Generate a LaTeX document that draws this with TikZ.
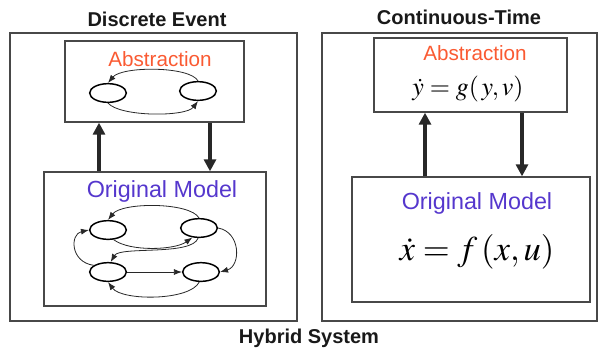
\documentclass[tikz,border=0pt]{standalone}
\usepackage{mathptmx}
\usepackage{fontspec}
\setmainfont{Liberation Sans}
\usetikzlibrary{shapes.geometric,arrows.meta}
\definecolor{abscol}{RGB}{250,90,50}
\definecolor{origcol}{RGB}{85,55,205}
\definecolor{linecol}{RGB}{40,40,40}
\tikzset{
  boxframe/.style={draw=linecol!85,line width=1pt,inner sep=0pt},
  oval/.style={ellipse,draw=black,line width=1.1pt,minimum width=27.5pt,minimum height=14pt,inner sep=0pt},
  smallarrow/.style={draw=linecol,line width=0.6pt,-{Latex[length=6pt,width=4.5pt]}},
  bigarrow/.style={draw=linecol,line width=3.2pt,-{Triangle[length=9pt,width=9pt]}},
  titletext/.style={font=\fontsize{15}{18}\selectfont\bfseries,text=black!90,inner sep=0pt},
  abstext/.style={font=\fontsize{15.5}{18}\selectfont,text=abscol,inner sep=0pt},
  origtext/.style={font=\fontsize{17.5}{20}\selectfont,text=origcol,inner sep=0pt},
}
\begin{document}
\begin{tikzpicture}[x=0.75pt,y=-0.75pt]
\useasboundingbox (0,0) rectangle (598,351);
% outer boxes
\node[boxframe,minimum width=287*0.75pt,minimum height=288*0.75pt] (lout) at (153.5,177) {};
\node[boxframe,minimum width=275*0.75pt,minimum height=288*0.75pt] (rout) at (459.5,177) {};
% titles
\node[titletext] (t1) at (157,19) {Discrete Event};
\node[titletext] (t2) at (459,17) {Continuous-Time};
\node[titletext] (t3) at (309,338) {Hybrid System};
% left abstraction box
\node[boxframe,minimum width=179*0.75pt,minimum height=81*0.75pt] (la) at (154.5,81.5) {};
\node[abstext] (lat) at (160,59) {Abstraction};
\node[oval] (a1) at (108,93) {};
\node[oval] (a2) at (198,91) {};
\draw[smallarrow] (a2.north) .. controls (190,66) and (122,66) .. (a1.north);
\draw[smallarrow] (a1.south) .. controls (120,117) and (186,117) .. (a2.south);
% left original box
\node[boxframe,minimum width=222*0.75pt,minimum height=134*0.75pt] (lo) at (155,239) {};
\node[origtext] (lot) at (162,191) {Original Model};
\node[oval] (o1) at (108,230) {};
\node[oval] (o2) at (199,228) {};
\node[oval] (o3) at (108,272) {};
\node[oval] (o4) at (201,272) {};
\draw[smallarrow] (o2.north) .. controls (190,202) and (122,202) .. (o1.north);
\draw[smallarrow] (o1.-60) .. controls (130,252) and (175,250) .. (o2.-125);
\draw[smallarrow] (o2.-95) .. controls (192,256) and (120,246) .. (o3.75);
\draw[smallarrow] (o3.155) .. controls (70,262) and (70,234) .. (o1.west);
\draw[smallarrow] (o2.east) .. controls (241,232) and (241,266) .. (o4.east);
\draw[smallarrow] (o3.east) -- (o4.west);
\draw[smallarrow] (o4.-100) .. controls (190,301) and (122,301) .. (o3.south);
% left big arrows
\coordinate (xl1) at (99,0);
\coordinate (xl2) at (210,0);
\draw[bigarrow] (xl1 |- lo.north) -- (xl1 |- la.south);
\draw[bigarrow] (xl2 |- la.south) -- (xl2 |- lo.north);
% right abstraction box
\node[boxframe,minimum width=193*0.75pt,minimum height=74*0.75pt] (ra) at (470.5,75) {};
\node[abstext] (rat) at (475,53) {Abstraction};
\node[inner sep=0pt,font=\fontsize{19.5}{22}\selectfont] (req) at (468,89) {$\dot y = g(\,y,v)$};
% right original box
\node[boxframe,minimum width=238*0.75pt,minimum height=125*0.75pt] (ro) at (471,239.5) {};
\node[origtext] (rot) at (477,203) {Original Model};
\node[inner sep=0pt,font=\fontsize{26}{30}\selectfont] (xeq) at (477,252) {$\dot x = f\,(x,u)$};
% right big arrows
\coordinate (xr1) at (425,0);
\coordinate (xr2) at (522,0);
\draw[bigarrow] (xr1 |- ro.north) -- (xr1 |- ra.south);
\draw[bigarrow] (xr2 |- ra.south) -- (xr2 |- ro.north);
\end{tikzpicture}
\end{document}
